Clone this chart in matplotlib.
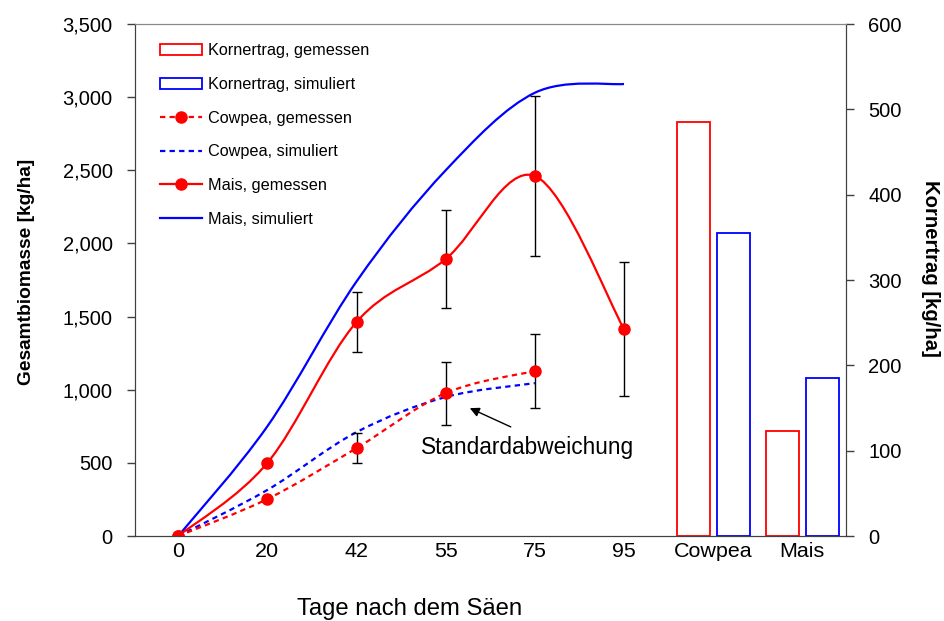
import numpy as np
import matplotlib
matplotlib.use('Agg')
import matplotlib.pyplot as plt
from matplotlib import font_manager
from matplotlib.path import Path
from matplotlib.patches import PathPatch, Patch
from matplotlib.lines import Line2D
from matplotlib.ticker import FuncFormatter, MultipleLocator

# narrow face is not installed here, so the regular one is used a bit smaller
names = {f.name for f in font_manager.fontManager.ttflist}
if 'Liberation Sans Narrow' in names:
    narrow, k = 'Liberation Sans Narrow', 1.0
else:
    narrow, k = 'Liberation Sans', 0.86
regular = 'Liberation Sans'

# data
days = ['0', '20', '42', '55', '75', '95']
crops = ['Cowpea', 'Mais']

mais_gem = [0, 500, 1463, 1893, 2461, 1415]
mais_gem_sd = [0, 0, 205, 335, 545, 458]
mais_sim = [0, 750, 1740, 2500, 3030, 3090]

cowpea_gem = [0, 253, 601, 977, 1128]
cowpea_gem_sd = [0, 0, 100, 215, 250]
cowpea_sim = [0, 315, 710, 950, 1045]

korn_gem = [485, 123]
korn_sim = [355, 185]

RED = '#FF0000'
BLUE = '#0000FF'
DASH = (0, (2.4, 1.9))


def smooth_path(xs, ys):
    # cubic bezier through the points, like excel's "smoothed line"
    pts = np.column_stack([np.asarray(xs, float), np.asarray(ys, float)])
    n = len(pts)
    verts = [pts[0]]
    codes = [Path.MOVETO]
    for i in range(n - 1):
        p0 = pts[i - 1] if i > 0 else pts[i]
        p1 = pts[i]
        p2 = pts[i + 1]
        p3 = pts[i + 2] if i + 2 < n else pts[i + 1]
        verts += [p1 + (p2 - p0) / 6.0, p2 - (p3 - p1) / 6.0, p2]
        codes += [Path.CURVE4] * 3
    return Path(verts, codes)


fig = plt.figure(figsize=(9.45, 6.21), dpi=100)
ax = fig.add_axes([135 / 945, 85 / 621, 711 / 945, 512 / 621])
ax2 = ax.twinx()

xd = np.arange(len(days))
xc = np.arange(len(cowpea_gem))

# smoothed curves
for xs, ys, col, ls in [(xd, mais_sim, BLUE, '-'),
                        (xc, cowpea_sim, BLUE, DASH),
                        (xd, mais_gem, RED, '-'),
                        (xc, cowpea_gem, RED, DASH)]:
    ax.add_patch(PathPatch(smooth_path(xs, ys), fill=False, edgecolor=col,
                           linewidth=1.6, linestyle=ls, zorder=3))


def sd_or_none(sd):
    return [s if s > 0 else np.nan for s in sd]


# measured points with standard deviation
ax.errorbar(xd, mais_gem, yerr=sd_or_none(mais_gem_sd), fmt='o', color=RED,
            markersize=8, ecolor='black', elinewidth=1, capsize=3.5,
            capthick=1, zorder=4)
ax.errorbar(xc, cowpea_gem, yerr=sd_or_none(cowpea_gem_sd), fmt='o', color=RED,
            markersize=8, ecolor='black', elinewidth=1, capsize=3.5,
            capthick=1, zorder=4)

# grain yield bars on the right axis
xb = np.arange(len(crops)) + len(days)
ax2.bar(xb - 0.225, korn_gem, width=0.37, facecolor='none', edgecolor=RED, linewidth=1.3)
ax2.bar(xb + 0.225, korn_sim, width=0.37, facecolor='none', edgecolor=BLUE, linewidth=1.3)

ax.set_xlim(-0.485, 7.49)
ax.set_ylim(0, 3500)
ax2.set_ylim(0, 600)
ax.set_xticks(list(xd) + list(xb))
ax.set_xticklabels(days + crops, fontfamily=narrow, fontsize=18 * k)
ax.tick_params(axis='x', length=0, pad=4)

ax.yaxis.set_major_locator(MultipleLocator(500))
ax.yaxis.set_major_formatter(FuncFormatter(lambda v, p: f'{int(v):,}'))
ax2.yaxis.set_major_locator(MultipleLocator(100))
for a in (ax, ax2):
    a.tick_params(axis='y', direction='out', length=6, width=1, color='#404040',
                  pad=10, labelsize=14.5)
    for lab in a.get_yticklabels():
        lab.set_fontfamily(regular)
    for s in a.spines.values():
        s.set_color('#404040')
    a.spines['top'].set_color('#888888')

# axis titles
fig.text(27 / 945, 1 - 272 / 621, 'Gesamtbiomasse [kg/ha]', rotation=90, ha='center',
         va='center', fontfamily=narrow, fontweight='bold', fontsize=16 * k)
fig.text(931 / 945, 1 - 268 / 621, 'Kornertrag [kg/ha]', rotation=270, ha='center',
         va='center', fontfamily=narrow, fontweight='bold', fontsize=17 * k)
ax.text(2.6, -0.1426, 'Tage nach dem Säen', transform=ax.get_xaxis_transform(),
        ha='center', va='center', fontfamily=narrow, fontsize=20 * k)

ax.annotate('', xy=(3.242, 882), xytext=(3.758, 738),
            arrowprops=dict(arrowstyle='-|>', color='black', lw=1,
                            mutation_scale=14), zorder=5)
ax.text(2.726, 608, 'Standardabweichung', ha='left', va='center',
        fontfamily=narrow, fontsize=19 * k)

handles = [Patch(facecolor='none', edgecolor=RED, linewidth=1.3),
           Patch(facecolor='none', edgecolor=BLUE, linewidth=1.3),
           Line2D([], [], color=RED, lw=1.6, ls=DASH, marker='o', markersize=8),
           Line2D([], [], color=BLUE, lw=1.6, ls=DASH),
           Line2D([], [], color=RED, lw=1.6, marker='o', markersize=8),
           Line2D([], [], color=BLUE, lw=1.6)]
labels = ['Kornertrag, gemessen', 'Kornertrag, simuliert', 'Cowpea, gemessen',
          'Cowpea, simuliert', 'Mais, gemessen', 'Mais, simuliert']
fs = 13.6 * k
ax.legend(handles, labels, loc='upper left', bbox_to_anchor=(0.035, 0.962),
          frameon=False, borderpad=0, borderaxespad=0,
          handlelength=42 / (fs * 100 / 72), handletextpad=6 / (fs * 100 / 72),
          labelspacing=1.15, prop={'family': narrow, 'size': fs})

fig.savefig('out.png', dpi=100)
